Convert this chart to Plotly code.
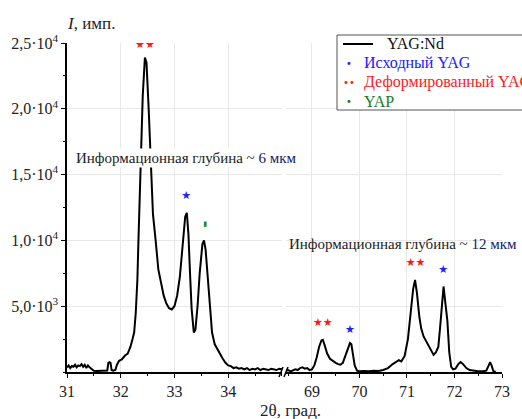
import plotly.graph_objects as go

# ---------------- data ----------------
x_left = [31.00, 31.03, 31.06, 31.09, 31.12, 31.15, 31.18, 31.21, 31.24, 31.27, 31.30, 31.33, 31.36, 31.39,
          31.42, 31.45, 31.50, 31.55, 31.60, 31.65, 31.70, 31.75, 31.77, 31.79, 31.81, 31.83, 31.86, 31.90,
          31.93, 31.97, 32.02, 32.08, 32.13, 32.18, 32.22, 32.25, 32.28, 32.31, 32.33, 32.37, 32.41, 32.45,
          32.48, 32.52, 32.56, 32.60, 32.65, 32.70, 32.75, 32.80, 32.85, 32.90, 32.95, 33.00, 33.05, 33.10,
          33.15, 33.20, 33.23, 33.26, 33.29, 33.32, 33.36, 33.39, 33.43, 33.47, 33.52, 33.55, 33.58, 33.62,
          33.66, 33.70, 33.75, 33.80, 33.85, 33.90, 33.95, 34.00, 34.05, 34.10, 34.15, 34.20, 34.25, 34.30,
          34.35, 34.40, 34.45, 34.50, 34.55, 34.60, 34.65, 34.70, 34.75, 34.80, 34.85, 34.90, 34.95, 35.00]
y_left = [350, 500, 300, 450, 400, 550, 350, 500, 450, 600, 400, 550, 300, 500,
          350, 250, 100, 80, 100, 90, 100, 120, 700, 750, 700, 150, 100, 150,
          550, 850, 950, 1250, 1400, 1900, 2500, 3000, 4500, 7000, 10000, 15000, 21000, 23900,
          23500, 20000, 15200, 12000, 10000, 7800, 6800, 5800, 5200, 4850, 4750, 5000, 5800, 7200,
          9500, 11800, 12100, 10500, 7500, 4800, 3000, 3200, 5000, 7500, 9700, 10000, 9300, 7000,
          4500, 3000, 2100, 1700, 1300, 1000, 700, 500, 450, 300, 350, 250, 300, 200,
          300, 150, 250, 200, 300, 150, 250, 200, 150, 250, 200, 150, 250, 200]

x_right = [68.45, 68.50, 68.55, 68.60, 68.65, 68.70, 68.75, 68.80, 68.85, 68.90, 68.95, 69.00, 69.05, 69.10,
           69.15, 69.20, 69.23, 69.27, 69.32, 69.38, 69.45, 69.50, 69.55, 69.60, 69.65, 69.70, 69.75, 69.80,
           69.83, 69.87, 69.90, 69.95, 70.00, 70.10, 70.20, 70.30, 70.40, 70.50, 70.60, 70.70, 70.80, 70.83,
           70.88, 70.95, 71.02, 71.08, 71.13, 71.17, 71.21, 71.26, 71.30, 71.35, 71.42, 71.50, 71.56, 71.61,
           71.66, 71.70, 71.74, 71.77, 71.80, 71.85, 71.89, 71.93, 71.97, 72.02, 72.08, 72.13, 72.18, 72.25,
           72.32, 72.40, 72.50, 72.60, 72.67, 72.72, 72.75, 72.78, 72.82, 72.87]
y_right = [100, 150, 50, 150, 200, 150, 300, 350, 250, 300, 150, 200, 500, 1100,
           1900, 2400, 2450, 2000, 1400, 1000, 800, 700, 600, 550, 700, 1200, 1800, 2200,
           2100, 1300, 500, 100, 50, 80, 60, 100, 80, 150, 300, 600, 850, 900,
           800, 1200, 2500, 4500, 6300, 7000, 6000, 4200, 3300, 2700, 2200, 1700, 1300, 1500,
           1900, 3500, 5000, 6500, 5500, 3900, 1500, 400, 200, 250, 600, 750, 600, 300,
           150, 80, 50, 60, 100, 500, 750, 500, 50, 10]

# peak markers
red_left_x, red_left_y = [32.45], [24850]
red_right_x, red_right_y = [69.23, 71.18], [3720, 8280]
blue_left_x, blue_left_y = [33.22], [13370]
blue_right_x, blue_right_y = [69.80, 71.76], [3190, 7750]
green_x, green_y = [33.57], [11250]

y_tickvals = [5000, 10000, 15000, 20000, 25000]
y_ticktext = ["5,0·10<sup>3</sup>", "1,0·10<sup>4</sup>", "1,5·10<sup>4</sup>",
              "2,0·10<sup>4</sup>", "2,5·10<sup>4</sup>"]
x_left_ticks = [31, 32, 33, 34]
x_right_ticks = [69, 70, 71, 72, 73]

SERIF = "Liberation Serif, Times New Roman, serif"
W, H = 522, 419
L, R, T, B = 67, 20, 43, 47
PW, PH = W - L - R, H - T - B


def px(x):
    return (x - L) / PW


def py(y):
    return (H - B - y) / PH


fig = go.Figure()
line_style = dict(color="black", width=2)
fig.add_trace(go.Scatter(x=x_left, y=y_left, mode="lines", line=line_style,
                         xaxis="x", yaxis="y", showlegend=False))
fig.add_trace(go.Scatter(x=x_right, y=y_right, mode="lines", line=line_style,
                         xaxis="x2", yaxis="y", showlegend=False))

for xs, ys, txt, col, ax, sz in [
    (red_left_x, red_left_y, "★★", "#ff1a1a", "x", 11),
    (red_right_x, red_right_y, "★★", "#ff1a1a", "x2", 11),
    (blue_left_x, blue_left_y, "★", "#2020ff", "x", 11),
    (blue_right_x, blue_right_y, "★", "#2020ff", "x2", 11),
    (green_x, green_y, "▮", "#1a8a1a", "x", 7),
]:
    fig.add_trace(go.Scatter(x=xs, y=ys, mode="text", text=[txt] * len(xs),
                             textfont=dict(family="DejaVu Sans", size=sz, color=col),
                             textposition="middle center", xaxis=ax, yaxis="y",
                             showlegend=False, hoverinfo="skip"))

axis_common = dict(showline=True, linecolor="black", linewidth=1.5, ticks="outside",
                   ticklen=4, tickwidth=1.2, tickcolor="black",
                   showgrid=True, gridcolor="#e8e8e8", gridwidth=1, zeroline=False,
                   tickfont=dict(family=SERIF, size=16, color="#222"))

fig.update_layout(
    width=W, height=H,
    margin=dict(l=L, r=R, t=T, b=B),
    paper_bgcolor="white", plot_bgcolor="white",
    showlegend=False,
    xaxis=dict(domain=[0, 0.494], range=[31, 35], anchor="y",
               tickvals=x_left_ticks, **axis_common,
               minor=dict(ticks="outside", ticklen=2, tickcolor="black", dtick=0.5, showgrid=False)),
    xaxis2=dict(domain=[0.503, 1], range=[68.45, 73], anchor="y",
                tickvals=x_right_ticks, **axis_common,
                minor=dict(ticks="outside", ticklen=2, tickcolor="black", dtick=0.5, showgrid=False)),
    yaxis=dict(range=[0, 25000], anchor="x", tickvals=y_tickvals, ticktext=y_ticktext,
               **axis_common,
               minor=dict(ticks="outside", ticklen=2, tickcolor="black", dtick=2500, showgrid=False)),
)

# axis break marks
for x0 in (279, 284):
    fig.add_shape(type="line", xref="paper", yref="paper",
                  x0=px(x0), y0=py(377), x1=px(x0 + 4), y1=py(367),
                  line=dict(color="black", width=1.5))

# legend (drawn manually)
fig.add_shape(type="rect", xref="paper", yref="paper",
              x0=px(337), y0=py(110), x1=px(535), y1=py(35),
              line=dict(color="#555", width=1), fillcolor="white", layer="above")
fig.add_shape(type="line", xref="paper", yref="paper",
              x0=px(343), y0=py(44), x1=px(373), y1=py(44),
              line=dict(color="black", width=2))
legend_items = [
    ("YAG:Nd", "#111", 385, 44, None),
    ("Исходный YAG", "#2020ff", 362, 63, "•"),
    ("Деформированный YAG", "#ff2020", 362, 82, "••"),
    ("YAP", "#1a7a1a", 362, 101, "•"),
]
for txt, col, x0, y0, sym in legend_items:
    fig.add_annotation(xref="paper", yref="paper", x=px(x0), y=py(y0), text=txt,
                       showarrow=False, xanchor="left", yanchor="middle",
                       font=dict(family=SERIF, size=16, color=col))
    if sym:
        fig.add_annotation(xref="paper", yref="paper", x=px(349), y=py(y0), text=sym,
                           showarrow=False, xanchor="center", yanchor="middle",
                           font=dict(family="DejaVu Sans", size=10, color=col))

# depth labels
fig.add_annotation(xref="paper", yref="paper", x=px(74), y=py(158),
                   text="Информационная глубина ~ <span style='color:#13206a'>6 мкм</span>",
                   showarrow=False, xanchor="left", yanchor="middle", bgcolor="white",
                   borderpad=1, font=dict(family=SERIF, size=15, color="#222"))
fig.add_annotation(xref="paper", yref="paper", x=px(287), y=py(244),
                   text="Информационная глубина ~ <span style='color:#13206a'>12 мкм</span>",
                   showarrow=False, xanchor="left", yanchor="middle",
                   font=dict(family=SERIF, size=15, color="#222"))

# axis titles
fig.add_annotation(xref="paper", yref="paper", x=px(65), y=py(24),
                   text="<i>I</i>, имп.", showarrow=False, xanchor="left", yanchor="middle",
                   font=dict(family=SERIF, size=17, color="#222"))
fig.add_annotation(xref="paper", yref="paper", x=px(290), y=py(410),
                   text="2θ, град.", showarrow=False, xanchor="center", yanchor="middle",
                   font=dict(family=SERIF, size=17, color="#222"))

fig.write_html("out.html")
